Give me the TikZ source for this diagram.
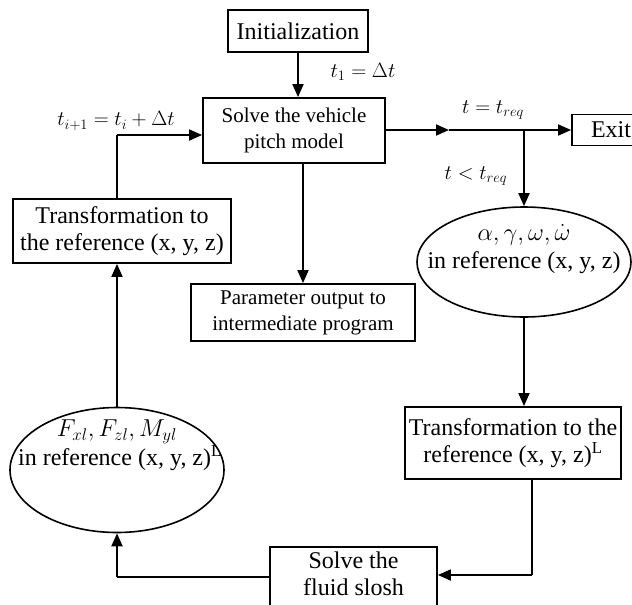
\documentclass[tikz,border=0pt]{standalone}
\usepackage{fontspec}
\setmainfont{Liberation Serif}
\usetikzlibrary{shapes.geometric,arrows.meta}
\newcommand{\ellcontent}[2]{\makebox[0pt]{\smash{\raisebox{#1}{\begin{tabular}{@{}c@{}}#2\end{tabular}}}}}
\tikzset{
  big/.style={font=\fontsize{24}{27}\selectfont},
  small/.style={font=\fontsize{21}{26}\selectfont},
  lab/.style={font=\fontsize{21}{26}\selectfont, inner sep=0pt},
  box/.style={draw, line width=1.8pt, rectangle, inner sep=2pt, align=center},
  ell/.style={draw, line width=1.6pt, ellipse, inner sep=0pt, font=\fontsize{24}{27}\selectfont},
  arr/.style={line width=1.8pt, -{Triangle[length=13pt,width=11pt]}},
  ln/.style={line width=1.8pt}
}
\begin{document}
\begin{tikzpicture}[x=1pt,y=-1pt]
\useasboundingbox (0,0) rectangle (632,605);
\clip (0,0) rectangle (632,605);
% nodes
\node[box,big,minimum width=140pt,minimum height=42pt] (init) at (298,31) {Initialization};
\node[box,small,minimum width=182pt,minimum height=65pt] (solve) at (294,130.5) {Solve the vehicle\\pitch model};
\node[box,small,minimum width=224pt,minimum height=57pt] (param) at (303,312.5) {Parameter output to\\intermediate program};
\node[box,big,minimum width=78pt,minimum height=31pt] (exit) at (611,130) {Exit};
\node[ell,minimum width=214pt,minimum height=110pt] (re) at (524,262)
  {\ellcontent{7pt}{{\fontsize{21}{27}\selectfont\scalebox{1.18}{$\alpha,\gamma,\omega,\dot\omega$}}\\[1pt]in reference (x, y, z)}};
\node[box,big,minimum width=216pt,minimum height=72pt] (tr) at (513,443) {Transformation to the\\reference (x, y, z)\textsuperscript{L}};
\node[box,big,minimum width=167pt,minimum height=80pt] (fluid) at (353.5,587)
  {\ellcontent{4pt}{Solve the\\fluid slosh}};
\node[ell,minimum width=214pt,minimum height=125pt] (le) at (117,470)
  {\ellcontent{18pt}{{\fontsize{21}{27}\selectfont\scalebox{1.18}{$F_{xl},F_{zl},M_{yl}$}}\\[1pt]\hspace*{6pt}in reference (x, y, z)\textsuperscript{L}}};
\node[box,big,minimum width=218pt,minimum height=64pt] (tl) at (122,231) {Transformation to\\the reference (x, y, z)};
% coordinates
\coordinate (mid) at (449,130);
\coordinate (br) at (524,130);
\coordinate (c1) at (532,575);
\coordinate (c2) at (117,577);
\coordinate (c3) at (117,135);
% connectors
\draw[arr] (init.south) -- (init.south |- solve.north);
\node[lab] (l1) at (363,72) {$t_1=\Delta t$};
\draw[arr] (solve.east |- mid) -- (mid);
\draw[arr] (mid) -- (exit.west);
\draw[arr] (br) -- (re.north);
\node[lab] (l2) at (493,110) {$t=t_{req}$};
\node[lab] (l3) at (476,176) {$t<t_{req}$};
\draw[arr] (param.north |- solve.south) -- (param.north);
\draw[arr] (re.south) -- (re.south |- tr.north);
\draw[ln] (tr.south -| c1) -- (c1);
\draw[arr] (c1) -- (c1 -| fluid.east);
\draw[ln] (fluid.west |- c2) -- (c2);
\draw[arr] (c2) -- (le.south);
\draw[arr] (le.north) -- (le.north |- tl.south);
\draw[ln] (c3 |- tl.north) -- (c3);
\draw[arr] (c3) -- (c3 -| solve.west);
\node[lab] (l4) at (116,121) {$t_{i+1}=t_i+\Delta t$};
\end{tikzpicture}
\end{document}
